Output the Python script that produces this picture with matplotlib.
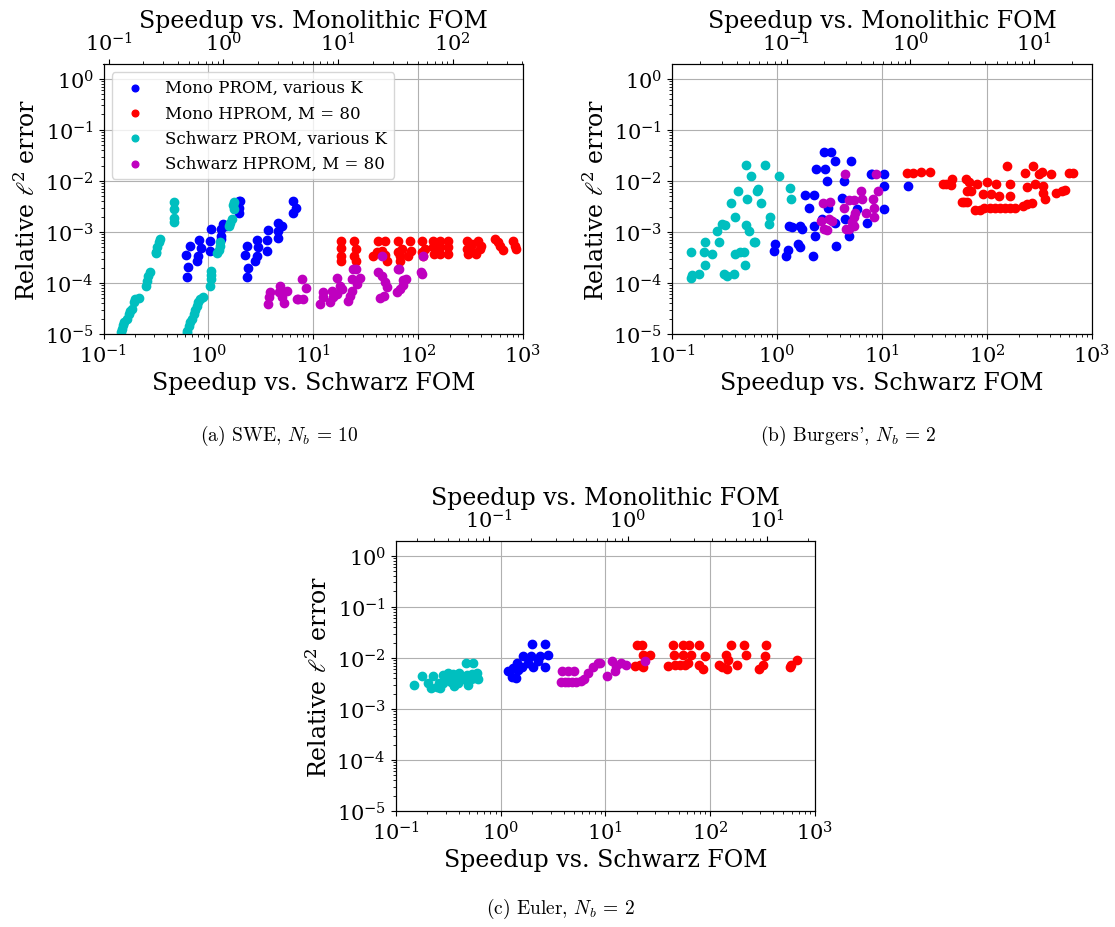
import matplotlib
matplotlib.use("Agg")
import matplotlib.pyplot as plt
from matplotlib.ticker import LogLocator

plt.rcParams['font.family'] = 'DejaVu Serif'
plt.rcParams['mathtext.fontset'] = 'dejavuserif'

# ---------------- (a) SWE ----------------
swe_mono_prom_x = [0.617, 0.664, 0.634, 0.625, 0.807, 0.85, 0.79, 0.778, 1.03, 1.04,
                   1.06, 1.32, 1.32, 1.32, 1.38, 1.48, 1.94, 2.0, 1.94, 1.94,
                   2.32, 2.23, 2.41, 2.35, 2.88, 2.99, 2.88, 2.78, 3.59, 3.59,
                   3.67, 4.64, 4.99, 4.64, 4.64, 6.37, 6.84, 6.45]
swe_mono_prom_y = [3.5e-4, 5.4e-4, 2.03e-4, 1.29e-4, 7.0e-4, 4.8e-4, 3.4e-4, 2.7e-4, 6.7e-4, 4.3e-4,
                   1.14e-3, 1.14e-3, 8.4e-4, 7.3e-4, 1.43e-3, 1.32e-3, 4.1e-3, 4.1e-3, 3.0e-3, 2.4e-3,
                   5.4e-4, 3.5e-4, 1.97e-4, 1.29e-4, 6.9e-4, 5.0e-4, 3.4e-4, 2.65e-4, 6.9e-4, 4.3e-4,
                   1.1e-3, 1.47e-3, 1.32e-3, 1.06e-3, 7.6e-4, 4.1e-3, 2.9e-3, 2.35e-3]

swe_mono_hprom_x = [18.2, 18.2, 18.2, 18.2, 24.5, 25.3, 24.2, 25.3,
                    41.7, 48.3, 37.4, 40.5, 45, 48.3, 50,
                    64.6, 64.6, 67, 67, 70, 83.5, 86, 80,
                    108, 108, 112, 116,
                    139, 139, 141, 161, 163, 161, 194, 194, 191,
                    290, 290, 323, 335, 370, 388, 400, 357, 300,
                    540, 580, 600, 640, 800, 837, 850]
swe_mono_hprom_y = [6.7e-4, 4.8e-4, 3.4e-4, 2.7e-4, 6.7e-4, 4.6e-4, 3.4e-4, 2.7e-4,
                    6.7e-4, 6.7e-4, 3.4e-4, 4.1e-4, 4.3e-4, 3.5e-4, 2.7e-4,
                    6.7e-4, 4.1e-4, 3.4e-4, 2.7e-4, 4.6e-4, 6.5e-4, 4.3e-4, 3.4e-4,
                    6.5e-4, 4.1e-4, 3.4e-4, 4.6e-4,
                    6.5e-4, 5.0e-4, 3.7e-4, 6.5e-4, 5.0e-4, 3.7e-4, 6.5e-4, 5.0e-4, 3.7e-4,
                    6.5e-4, 4.6e-4, 5.7e-4, 4.0e-4, 6.5e-4, 4.6e-4, 5.2e-4, 3.7e-4, 3.7e-4,
                    7.3e-4, 6.3e-4, 5.4e-4, 4.5e-4, 6.7e-4, 5.4e-4, 4.6e-4]

swe_schwarz_prom_x = [0.467, 0.467, 0.467, 0.467, 0.348, 0.335, 0.325, 0.318, 0.314,
                      0.275, 0.268, 0.261, 0.256,
                      0.22, 0.201, 0.195, 0.187, 0.18, 0.174, 0.167, 0.156, 0.152, 0.15, 0.147,
                      1.74, 1.70, 1.74, 1.68, 1.62, 1.57, 1.30, 1.28, 1.26, 1.21,
                      1.06, 1.06, 1.05, 1.03,
                      0.889, 0.826, 0.80, 0.778, 0.75, 0.724, 0.70, 0.673, 0.65, 0.626, 0.62]
swe_schwarz_prom_y = [3.9e-3, 2.8e-3, 1.84e-3, 1.54e-3, 7.3e-4, 6.25e-4, 5.0e-4, 4.1e-4, 3.9e-4,
                      1.66e-4, 1.39e-4, 1.11e-4, 8.9e-5,
                      5.0e-5, 4.8e-5, 4.2e-5, 3.1e-5, 2.8e-5, 2.5e-5, 2.0e-5, 1.7e-5, 1.5e-5, 1.26e-5, 1.08e-5,
                      3.9e-3, 3.3e-3, 2.8e-3, 1.79e-3, 1.48e-3, 1.29e-3, 6.25e-4, 5.4e-4, 4.5e-4, 3.9e-4,
                      1.74e-4, 1.43e-4, 1.2e-4, 8.9e-5,
                      5.2e-5, 4.8e-5, 4.2e-5, 3.6e-5, 2.9e-5, 2.5e-5, 1.97e-5, 1.7e-5, 1.46e-5, 1.17e-5, 1.05e-5]

swe_schwarz_hprom_x = [3.89, 3.67, 3.75, 4.77, 4.68, 5.03, 5.21, 5.61, 6.98,
                       7.75, 8.5, 8.0, 7.2, 12.3, 12.5, 11.6, 15.0, 15.5, 14.4,
                       16.7, 18.0, 18.6, 16.7, 21.6, 23.2, 24.1, 25.5, 27.9, 23.2, 22.4, 25.9,
                       41.8, 44.9, 48.3, 50.8, 47.2, 43.3, 64.6, 66, 71.8, 76, 67, 63, 71,
                       106, 110, 44.9, 112]
swe_schwarz_hprom_y = [6.6e-5, 3.9e-5, 5.2e-5, 8.9e-5, 6.6e-5, 5.2e-5, 4.1e-5, 7.1e-5, 4.9e-5,
                       1.2e-4, 7.9e-5, 4.9e-5, 4.9e-5, 6.6e-5, 5.2e-5, 3.9e-5, 7.1e-5, 5.2e-5, 4.3e-5,
                       1.23e-4, 8.9e-5, 7.6e-5, 6.1e-5, 4.5e-5, 1.19e-4, 1.87e-4, 1.87e-4, 1.23e-4, 7.1e-5, 5.5e-5, 9.6e-5,
                       1.66e-4, 1.39e-4, 1.03e-4, 8.2e-5, 5.6e-5, 5.1e-5, 1.87e-4, 1.87e-4, 1.16e-4, 1.2e-4, 7.6e-5, 6.8e-5, 9.2e-5,
                       1.66e-4, 1.5e-4, 3.4e-4, 3.4e-4]

# ---------------- (b) Burgers' ----------------
brg_mono_prom_x = [2.78, 3.29, 3.59, 5.1, 2.35, 2.84, 2.99, 4.31, 7.94, 8.1,
                   1.83, 2.23, 2.0, 4.16, 3.06, 5.78, 4.48, 3.59, 7.2, 1.29,
                   1.39, 1.67, 1.73, 2.23, 2.32, 0.95, 0.93, 1.27, 1.22, 1.58,
                   1.67, 2.2, 3.67, 4.82, 10.5, 10.5, 10.5, 17.8, 2.68]
brg_mono_prom_y = [0.0369, 0.0369, 0.0246, 0.0246, 0.0174, 0.0174, 0.01, 0.01, 0.0135, 0.0135,
                   5.3e-3, 5.3e-3, 3.0e-3, 4.7e-3, 3.0e-3, 2.8e-3, 1.78e-3, 1.47e-3, 1.5e-3, 1.28e-3,
                   1.26e-3, 1.28e-3, 1.14e-3, 1.28e-3, 8.2e-4, 5.8e-4, 4.3e-4, 4.5e-4, 3.3e-4, 5.8e-4,
                   5.0e-4, 3.3e-4, 5.2e-4, 8.2e-4, 0.0135, 7.8e-3, 2.8e-3, 7.8e-3, 1.78e-3]

brg_mono_hprom_x = [17.2, 19.9, 23.3, 28.6, 38.4, 41, 45.1, 46,
                    63, 67.9, 69.9, 65, 80.9, 57.4, 60.4, 65,
                    76.9, 85.8, 93.6, 107, 119, 133, 148, 166, 185,
                    92.3, 100.7, 108, 122, 131, 166, 166, 156,
                    222, 239, 266, 230, 272, 315, 332, 404,
                    239, 286, 339, 344, 357, 454, 514, 553, 608, 664]
brg_mono_hprom_y = [0.0141, 0.0141, 0.0146, 0.0146, 8.6e-3, 8.6e-3, 8.2e-3, 0.0111,
                    0.0111, 9.3e-3, 6.4e-3, 6.4e-3, 8.6e-3, 3.9e-3, 3.9e-3, 3.9e-3,
                    2.68e-3, 2.68e-3, 2.9e-3, 2.9e-3, 3.0e-3, 3.0e-3, 3.0e-3, 3.0e-3, 3.0e-3,
                    5.5e-3, 9.3e-3, 5.5e-3, 8.6e-3, 5.1e-3, 8.6e-3, 5.1e-3, 0.0197,
                    3.25e-3, 3.5e-3, 3.7e-3, 0.0141, 0.0197, 0.0135, 0.015, 0.0135,
                    7.6e-3, 8.6e-3, 7.8e-3, 5.9e-3, 4.4e-3, 5.9e-3, 6.4e-3, 6.7e-3, 0.0141, 0.0141]

brg_schwarz_prom_x = [0.507, 0.764, 0.570, 1.05, 0.426, 0.659, 0.645, 0.518, 0.367, 0.71,
                      1.34, 1.36, 0.395, 0.865, 0.846, 0.299, 0.318, 0.268, 0.507, 0.545,
                      0.282, 0.205, 0.622, 0.60, 0.153, 0.2, 0.24, 0.395, 0.448, 0.482,
                      0.207, 0.5, 0.155, 0.153, 0.182, 0.31, 0.334, 0.386]
brg_schwarz_prom_y = [0.0202, 0.0202, 0.0122, 0.0122, 6.4e-3, 6.9e-3, 6.4e-3, 4.5e-3, 3.7e-3, 3.7e-3,
                      7.1e-3, 4.5e-3, 1.92e-3, 1.92e-3, 1.4e-3, 1.4e-3, 1.37e-3, 1.04e-3, 1.37e-3, 1.04e-3,
                      6.3e-4, 6.3e-4, 6.3e-4, 6.3e-4, 4.0e-4, 4.0e-4, 3.7e-4, 3.7e-4, 4.0e-4, 4.0e-4,
                      2.2e-4, 2.2e-4, 1.44e-4, 1.24e-4, 1.5e-4, 1.5e-4, 1.35e-4, 1.5e-4]

brg_schwarz_hprom_x = [4.4, 8.8, 6.35, 9.2, 2.72, 3.22, 4.82, 5.37, 4.31, 6.45,
                       8.15, 8.33, 7.05, 5.57, 5.37, 8.33, 2.64, 3.1, 3.34, 5.18,
                       5.37, 2.78, 2.99, 4.54, 4.89]
brg_schwarz_hprom_y = [0.0135, 0.0135, 6.4e-3, 6.4e-3, 3.7e-3, 3.8e-3, 4.3e-3, 4.3e-3, 2.9e-3, 4.5e-3,
                       4.5e-3, 2.9e-3, 2.34e-3, 2.34e-3, 1.92e-3, 1.92e-3, 1.66e-3, 1.79e-3, 1.66e-3, 1.54e-3,
                       1.28e-3, 1.14e-3, 1.1e-3, 1.14e-3, 1.14e-3]

# ---------------- (c) Euler ----------------
eul_mono_prom_x = [1.17, 1.29, 1.39, 1.46, 1.43, 1.6, 1.63, 1.82, 1.95, 2.0,
                   2.06, 2.26, 2.38, 2.68, 2.68, 2.82, 1.32]
eul_mono_prom_y = [5.5e-3, 4.3e-3, 4.1e-3, 5.9e-3, 8.0e-3, 6.7e-3, 0.0111, 8.0e-3, 0.0111, 0.0183,
                   6.7e-3, 8.6e-3, 0.0111, 0.0183, 6.7e-3, 0.0116, 6.4e-3]

eul_mono_hprom_x = [20.2, 22.2, 22.7, 26.7, 19.2, 21.4, 22.7, 24.0,
                    44.6, 55.6, 63.4, 78.9, 45.3, 55.6, 65.3, 89.5, 39.9, 46.3, 51.6, 57.7, 62.1, 78.9, 84.9,
                    122, 129, 142, 149, 144, 179, 157, 210, 220, 295, 317, 341, 334, 578, 587, 670]
eul_mono_hprom_y = [0.0175, 0.0175, 0.0116, 0.0116, 6.9e-3, 7.1e-3, 6.7e-3, 0.0111,
                    0.0175, 0.0175, 0.0175, 0.0175, 0.0116, 0.0116, 0.0116, 0.0111, 6.9e-3, 7.4e-3, 7.1e-3, 7.1e-3, 8.0e-3, 7.1e-3, 6.1e-3,
                    7.4e-3, 6.7e-3, 0.0116, 9.0e-3, 6.1e-3, 7.1e-3, 0.0175, 0.0175, 0.0116, 6.1e-3, 7.4e-3, 0.0175, 0.0111, 6.7e-3, 7.4e-3, 9.0e-3]

eul_schwarz_prom_x = [0.151, 0.178, 0.202, 0.217, 0.229, 0.246, 0.265, 0.281, 0.285, 0.313,
                      0.337, 0.35, 0.39, 0.399, 0.436, 0.475, 0.486, 0.535, 0.592, 0.605,
                      0.469, 0.551, 0.523, 0.376, 0.257, 0.30, 0.42, 0.56, 0.36]
eul_schwarz_prom_y = [2.89e-3, 4.5e-3, 3.26e-3, 2.6e-3, 4.5e-3, 2.72e-3, 2.6e-3, 3.26e-3, 4.7e-3, 5.1e-3,
                      3.36e-3, 4.9e-3, 3.26e-3, 5.1e-3, 3.8e-3, 4.7e-3, 3.0e-3, 4.9e-3, 5.1e-3, 3.9e-3,
                      7.8e-3, 7.8e-3, 3.8e-3, 4.1e-3, 3.2e-3, 4.3e-3, 4.4e-3, 4.0e-3, 2.8e-3]

eul_schwarz_hprom_x = [3.86, 4.37, 3.78, 4.37, 5.25, 5.86, 6.3, 6.79, 7.57, 8.45,
                       5.07, 8.9, 11.5, 14.0, 15.8, 12.6, 12.4, 10.4, 23.9, 4.1, 4.8]
eul_schwarz_hprom_y = [5.5e-3, 5.5e-3, 3.36e-3, 3.36e-3, 3.36e-3, 3.5e-3, 3.8e-3, 5.1e-3, 6.7e-3, 8.0e-3,
                       5.5e-3, 8.0e-3, 8.6e-3, 8.0e-3, 7.1e-3, 6.9e-3, 5.5e-3, 4.5e-3, 8.6e-3, 3.36e-3, 3.36e-3]

labels = ["Mono PROM, various K", "Mono HPROM, M = 80",
          "Schwarz PROM, various K", "Schwarz HPROM, M = 80"]
colors = ['b', 'r', 'c', 'm']

# top axis (speedup vs monolithic FOM) limits per panel
top_lims = [(0.0903, 410), (0.0119, 29.2), (0.0211, 22.3)]
captions = [r"(a) SWE, $N_b\,=\,10$", r"(b) Burgers', $N_b\,=\,2$", r"(c) Euler, $N_b\,=\,2$"]

panels = [
    [(swe_mono_prom_x, swe_mono_prom_y), (swe_mono_hprom_x, swe_mono_hprom_y),
     (swe_schwarz_prom_x, swe_schwarz_prom_y), (swe_schwarz_hprom_x, swe_schwarz_hprom_y)],
    [(brg_mono_prom_x, brg_mono_prom_y), (brg_mono_hprom_x, brg_mono_hprom_y),
     (brg_schwarz_prom_x, brg_schwarz_prom_y), (brg_schwarz_hprom_x, brg_schwarz_hprom_y)],
    [(eul_mono_prom_x, eul_mono_prom_y), (eul_mono_hprom_x, eul_mono_hprom_y),
     (eul_schwarz_prom_x, eul_schwarz_prom_y), (eul_schwarz_hprom_x, eul_schwarz_hprom_y)],
]

W, H = 1115, 928
fig = plt.figure(figsize=(W / 100, H / 100), dpi=100)

# axes boxes in pixels: left, top, right, bottom
boxes = [(103.5, 65, 523, 335), (672, 65, 1092, 335), (395.7, 542, 815, 812)]
cap_pos = [(279, 436), (848, 436), (560, 909)]

for k in range(3):
    l, t, r, b = boxes[k]
    ax = fig.add_axes([l / W, 1 - b / H, (r - l) / W, (b - t) / H])
    for (xs, ys), c, lab in zip(panels[k], colors, labels):
        ax.scatter(xs, ys, s=36, c=c, label=lab, zorder=3)
    ax.set_xscale('log')
    ax.set_yscale('log')
    ax.set_xlim(0.1, 1000)
    ax.set_ylim(1e-5, 1.95)
    ax.xaxis.set_major_locator(LogLocator(base=10, numticks=10))
    ax.yaxis.set_major_locator(LogLocator(base=10, numticks=10))
    ax.grid(True, which='major', color='#b0b0b0', lw=0.8)
    ax.tick_params(labelsize=15)
    ax.set_xlabel("Speedup vs. Schwarz FOM", fontsize=17, labelpad=3)
    ax.set_ylabel(r"Relative $\ell^2$ error", fontsize=17, labelpad=3)

    ax2 = ax.twiny()
    ax2.set_xscale('log')
    ax2.set_xlim(*top_lims[k])
    ax2.xaxis.set_major_locator(LogLocator(base=10, numticks=10))
    ax2.tick_params(labelsize=15)
    ax2.set_xlabel("Speedup vs. Monolithic FOM", fontsize=17, labelpad=3)

    if k == 0:
        ax.legend(loc='upper left', fontsize=12, markerscale=0.8)

    cx, cy = cap_pos[k]
    fig.text(cx / W, 1 - cy / H, captions[k], ha='center', va='center',
             fontsize=14, family='cmr10', math_fontfamily='cm')

fig.savefig("out.png", dpi=100)
